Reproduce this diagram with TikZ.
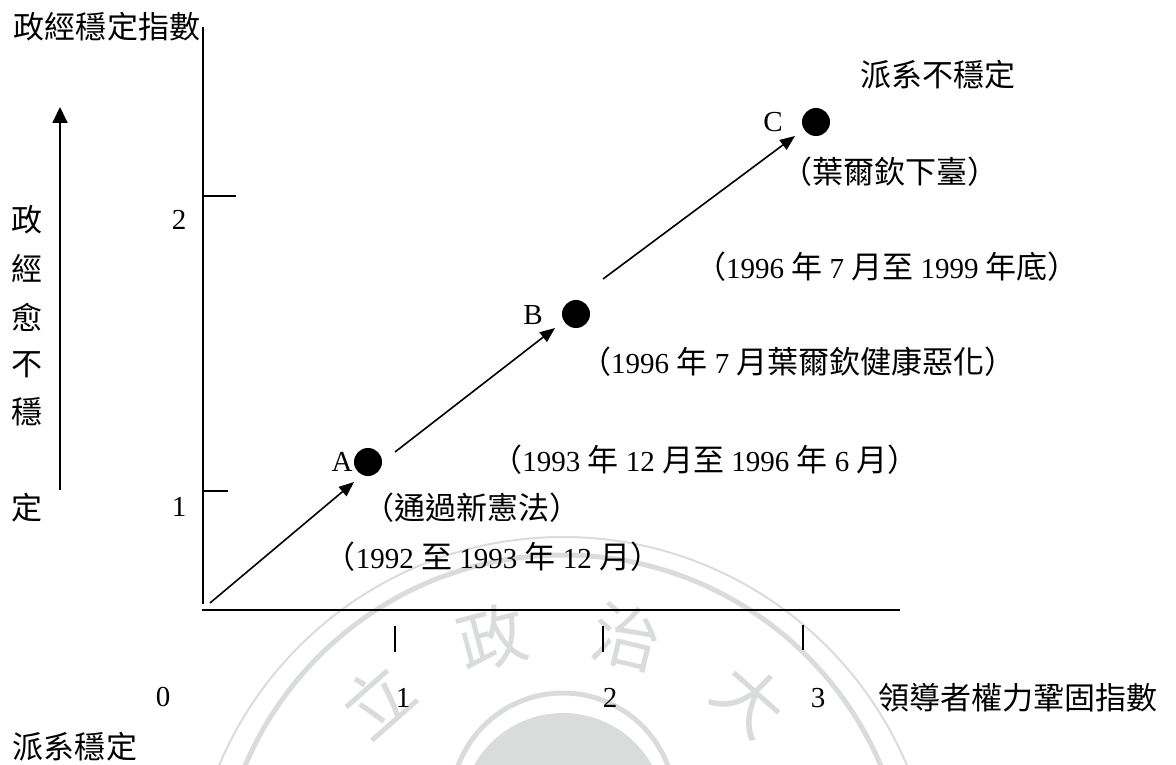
\documentclass[tikz,border=0pt]{standalone}
\usepackage{fontspec}
\setmainfont{Liberation Serif}
\newfontfamily\cjk{Noto Sans CJK TC}[Scale=1.07]
\usetikzlibrary{arrows.meta}
\definecolor{wm}{RGB}{218,220,220}
\begin{document}
\begin{tikzpicture}[x=1pt,y=-1pt,
  every node/.style={inner sep=0pt, font=\fontsize{29}{34}\selectfont},
  ln/.style={line width=1.8pt},
  arr/.style={line width=1.6pt, -{Triangle[length=15pt,width=12pt]}},
  dot/.style={circle, fill=black, minimum size=28pt, inner sep=0pt},
  wmchar/.style={text=wm, font=\cjk\fontsize{64}{70}\selectfont}
]
\useasboundingbox (0,0) rectangle (1176,765);
% watermark
\begin{scope}
\clip (0,0) rectangle (1176,765);
\draw[wm, line width=2pt] (563,910) circle[radius=373];
\draw[wm, line width=5pt] (563,900) circle[radius=345];
\draw[wm, line width=5pt] (563,805) circle[radius=112];
\fill[wm] (563,815) circle[radius=102];
\node[wmchar, rotate=41.5] (w1) at (377,700) {立};
\node[wmchar, rotate=14.6] (w2) at (492,638) {政};
\node[wmchar, rotate=-13.2] (w3) at (627,637) {治};
\node[wmchar, rotate=-41.7] (w4) at (750,700) {大};
\end{scope}

% axes
\coordinate (ytop) at (203,27);
\coordinate (ybot) at (203,604);
\coordinate (xl) at (202,610);
\coordinate (xr) at (900,610);
\draw[ln] (ytop) -- (ybot);
\draw[ln] (xl) -- (xr);
% y ticks
\coordinate (yt2a) at (203,196); \coordinate (yt2b) at (236,196);
\coordinate (yt1a) at (203,491); \coordinate (yt1b) at (228,491);
\draw[ln] (yt2a) -- (yt2b);
\draw[ln] (yt1a) -- (yt1b);
% x ticks
\coordinate (xt1a) at (395,626); \coordinate (xt1b) at (395,652);
\coordinate (xt2a) at (603,626); \coordinate (xt2b) at (603,652);
\coordinate (xt3a) at (803,625); \coordinate (xt3b) at (803,650);
\draw[ln] (xt1a) -- (xt1b);
\draw[ln] (xt2a) -- (xt2b);
\draw[ln] (xt3a) -- (xt3b);

% axis titles and numbers
\node (ytitle) at (107,27) {\cjk 政經穩定指數};
\node (y2) at (179,220) {2};
\node (y1) at (179,507) {1};
\node (x0) at (163,697) {0};
\node (x1) at (403,698) {1};
\node (x2) at (610,698) {2};
\node (x3) at (818,698) {3};
\node (xtitle) at (1018,698) {\cjk 領導者權力鞏固指數};
\node (fs) at (75,747) {\cjk 派系穩定};
\node (fu) at (938,75) {\cjk 派系不穩定};

% left arrow and vertical text
\coordinate (la0) at (60,490);
\coordinate (la1) at (60,107);
\draw[arr, line width=1.8pt, -{Triangle[length=16pt,width=15pt]}] (la0) -- (la1);
\node (v1) at (27,220) {\cjk 政};
\node (v2) at (27,268) {\cjk 經};
\node (v3) at (27,317) {\cjk 愈};
\node (v4) at (27,365) {\cjk 不};
\node (v5) at (27,412) {\cjk 穩};
\node (v6) at (27,508) {\cjk 定};

% points
\node[dot] (A) at (368,462) {};
\node (lA) at (342,462) {A};
\node[dot] (B) at (576,314) {};
\node (lB) at (533,315) {B};
\node[dot] (C) at (816,122) {};
\node (lC) at (773,122) {C};

% arrows
\coordinate (p0) at (210,603);
\coordinate (p1) at (354,482);
\coordinate (p2) at (395,452);
\coordinate (p3) at (555,328);
\coordinate (p4) at (603,279);
\coordinate (p5) at (795,136);
\draw[arr] (p0) -- (p1);
\draw[arr] (p2) -- (p3);
\draw[arr] (p4) -- (p5);

% annotations
\node (tA1) at (472,508) {\cjk （通過新憲法）};
\node (tA2) at (493,557) {{\cjk （}1992 {\cjk 至} 1993 {\cjk 年} 12 {\cjk 月）}};
\node (tAB) at (705,460) {{\cjk （}1993 {\cjk 年} 12 {\cjk 月至} 1996 {\cjk 年} 6 {\cjk 月）}};
\node (tB) at (798,362) {{\cjk （}1996 {\cjk 年} 7 {\cjk 月葉爾欽健康惡化）}};
\node (tBC) at (887,267) {{\cjk （}1996 {\cjk 年} 7 {\cjk 月至} 1999 {\cjk 年底）}};
\node (tC) at (890,172) {\cjk （葉爾欽下臺）};
\end{tikzpicture}
\end{document}
